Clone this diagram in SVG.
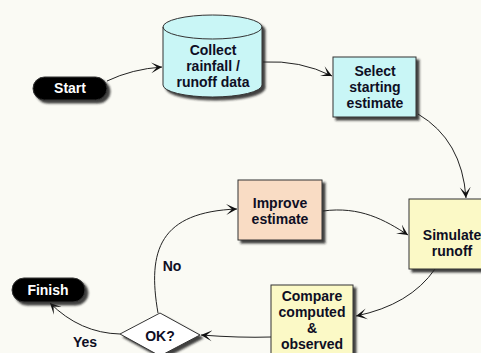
<svg xmlns="http://www.w3.org/2000/svg" width="481" height="353" viewBox="0 0 481 353">
  <defs>
    <filter id="shadow" x="-20%" y="-20%" width="150%" height="150%">
      <feDropShadow dx="3" dy="3" stdDeviation="0.8" flood-color="#222" flood-opacity="0.85"/>
    </filter>
    <marker id="arrow" viewBox="0 0 12 12" refX="11" refY="6" markerWidth="12" markerHeight="12" markerUnits="userSpaceOnUse" orient="auto">
      <path d="M0,0.5 L11,6 L0,11.5 L6,6 Z" fill="#111"/>
    </marker>
    <style>
      .node { stroke: #333; stroke-width: 1; filter: url(#shadow); }
      .cyan { fill: #c9f6f6; }
      .peach { fill: #f9dcc4; }
      .yellow { fill: #fbf9c6; }
      .term { fill: #050505; }
      .label { font-family: "Liberation Sans", Arial, sans-serif; font-weight: bold; font-size: 14px; fill: #0e0e24; text-anchor: middle; }
      .white { fill: #ffffff; }
      .edge { fill: none; stroke: #222; stroke-width: 1; marker-end: url(#arrow); }
    </style>
  </defs>

  <rect width="481" height="353" fill="#fafaf4"/>

  <g id="edges">
    <path class="edge" d="M107,81 Q132,69 162,67"/>
    <path class="edge" d="M263,62 Q300,60 332,76"/>
    <path class="edge" d="M418,114 Q462,140 466,198"/>
    <path class="edge" d="M323,211 C360,206 385,220 408,235"/>
    <path class="edge" d="M435,269 Q410,305 356,316"/>
    <path class="edge" d="M271,337 Q240,338 201,335"/>
    <path class="edge" d="M158,313 C147,250 160,212 237,209"/>
    <path class="edge" d="M120,334 Q80,333 50,303"/>
  </g>

  <g id="start">
    <rect class="node term" x="33" y="77" width="74" height="23" rx="11.5"/>
    <text class="label white" x="70" y="93">Start</text>
  </g>

  <g id="collect">
    <path class="node cyan" d="M163,27 A49.5,12 0 0 1 262,27 L262,85 A49.5,12 0 0 1 163,85 Z"/>
    <path d="M163,27 A49.5,12 0 0 0 262,27" fill="none" stroke="#333" stroke-width="1"/>
    <text class="label" x="213" y="55">Collect</text>
    <text class="label" x="213" y="71">rainfall /</text>
    <text class="label" x="213" y="87">runoff data</text>
  </g>

  <g id="select">
    <rect class="node cyan" x="333" y="57" width="83" height="60"/>
    <text class="label" x="375" y="76">Select</text>
    <text class="label" x="375" y="92">starting</text>
    <text class="label" x="375" y="108">estimate</text>
  </g>

  <g id="simulate">
    <rect class="node yellow" x="409" y="199" width="86" height="70"/>
    <text class="label" x="452" y="240">Simulate</text>
    <text class="label" x="452" y="256">runoff</text>
  </g>

  <g id="improve">
    <rect class="node peach" x="238" y="180" width="84" height="60"/>
    <text class="label" x="280" y="208">Improve</text>
    <text class="label" x="280" y="224">estimate</text>
  </g>

  <g id="compare">
    <rect class="node yellow" x="271" y="285" width="82" height="80"/>
    <text class="label" x="312" y="301">Compare</text>
    <text class="label" x="312" y="317">computed</text>
    <text class="label" x="312" y="333">&amp;</text>
    <text class="label" x="312" y="349">observed</text>
  </g>

  <g id="ok">
    <polygon class="node" fill="#ffffff" points="120,334 160,313 200,335 160,356"/>
    <text class="label" x="160" y="341">OK?</text>
  </g>

  <g id="finish">
    <rect class="node term" x="12" y="278" width="73" height="24" rx="12"/>
    <text class="label white" x="48" y="295">Finish</text>
  </g>

  <g id="edge-labels">
    <text class="label" x="172" y="271">No</text>
    <text class="label" x="85" y="347">Yes</text>
  </g>
</svg>
